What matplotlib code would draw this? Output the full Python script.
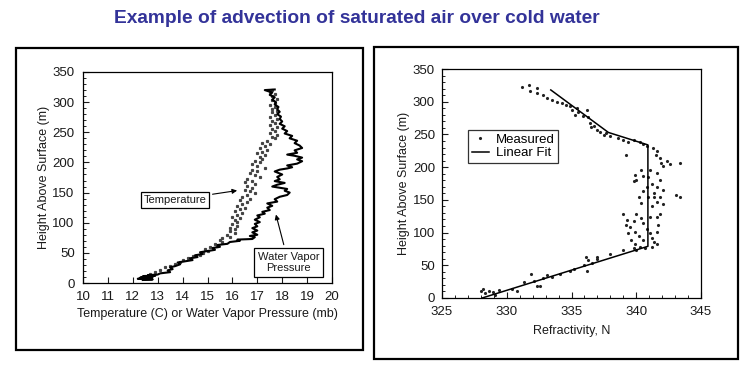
import matplotlib.pyplot as plt
from matplotlib.patches import Rectangle

plt.rcParams['font.family'] = ['Liberation Sans', 'DejaVu Sans']

# Left panel: water vapor pressure trace (mb, m)
vapor_x = [12.4, 12.8, 12.2, 12.7, 12.3, 12.8, 12.4, 12.9, 12.6, 13.0, 13.1, 13.5,
           13.4, 13.6, 13.5, 13.7, 13.9, 13.8, 14.1, 14.4, 14.3, 14.6, 14.5, 14.8,
           14.7, 15.0, 15.3, 15.2, 15.5, 15.4, 15.8, 15.9, 16.3, 16.2, 16.8, 16.9,
           16.7, 17.0, 16.8, 17.0, 16.8, 17.0, 16.9, 17.1, 16.9, 17.1, 17.0, 17.3,
           17.2, 17.5, 17.4, 17.6, 17.4, 17.8, 17.7, 17.9, 18.2, 18.3, 18.1, 18.2,
           17.6, 17.8, 18.1, 17.7, 17.9, 17.8, 18.0, 17.7, 17.9, 18.2, 18.4, 18.2,
           18.6, 18.8, 18.6, 18.8, 18.5, 18.2, 18.6, 18.5, 18.8, 18.7, 18.5, 18.6,
           18.3, 18.4, 18.1, 18.2, 18.0, 18.1, 17.9, 18.0, 17.9, 17.95, 17.8, 17.9,
           17.8, 17.85, 17.7, 17.75, 17.6, 17.7, 17.5, 17.6, 17.3, 17.7]
vapor_y = [5, 6, 7, 8, 9, 10, 11, 12, 13, 14, 16, 18,
           21, 23, 26, 28, 31, 34, 36, 38, 41, 43, 46, 48,
           51, 53, 55, 58, 60, 63, 65, 68, 70, 72, 73, 76,
           78, 80, 84, 87, 91, 94, 98, 101, 105, 109, 112, 115,
           118, 121, 125, 128, 132, 135, 139, 143, 146, 150, 153, 156,
           160, 163, 166, 169, 172, 176, 180, 185, 188, 190, 192, 195,
           198, 202, 205, 208, 211, 213, 216, 220, 224, 228, 232, 236,
           240, 244, 248, 252, 256, 260, 264, 268, 272, 276, 280, 284,
           288, 292, 296, 300, 304, 308, 312, 316, 320, 321]

# Left panel: temperature samples (C, m)
temp_x = [17.6, 17.5, 17.7, 17.6, 17.8, 17.6, 17.7, 17.5, 17.7, 17.6,
          17.8, 17.6, 17.7, 17.5, 17.8, 17.6, 17.7, 17.5, 17.8, 17.6, 17.7, 17.5, 17.8, 17.6, 17.7,
          17.4, 17.2, 17.5, 17.3, 17.1, 17.4, 17.2, 17.0, 17.3, 17.1,
          17.2, 16.9, 17.1, 16.8, 17.0, 17.3, 16.8, 17.0, 16.7, 16.9, 17.1,
          16.6, 16.8, 16.5, 16.9, 16.6, 16.8, 16.5, 16.7, 16.9, 16.6, 16.4, 16.7,
          16.3, 16.6, 16.4, 16.2, 16.5, 16.3, 16.1, 16.4, 16.2, 16.0, 16.3, 16.1, 16.2,
          16.0, 16.2, 15.9, 16.1, 15.9, 16.1, 15.8, 15.9, 15.6,
          15.5, 15.6, 15.3, 15.4, 15.1, 14.9, 15.0, 14.8, 14.7,
          14.4, 14.2, 14.0, 13.9, 13.7, 13.5, 13.3, 13.1, 12.9, 12.7, 12.5]
temp_y = [320, 316, 314, 310, 306, 303, 299, 296, 292, 289,
          286, 283, 279, 276, 272, 269, 265, 262, 259, 255, 252, 249, 246, 243, 240,
          236, 233, 230, 227, 224, 221, 218, 215, 212, 209,
          206, 203, 200, 197, 194, 191, 188, 185, 182, 179, 176,
          173, 170, 167, 164, 161, 158, 155, 152, 149, 146, 143, 140,
          137, 134, 131, 128, 125, 122, 119, 116, 113, 110, 107, 104, 101,
          98, 95, 92, 89, 86, 83, 80, 77, 74,
          71, 68, 65, 62, 59, 56, 53, 50, 47,
          44, 41, 38, 35, 32, 29, 26, 22, 19, 15, 11]

# Right panel: measured refractivity (N, m)
meas_n = [331.2, 331.7, 331.8, 332.3, 332.3, 332.8, 333.1, 333.5, 333.9, 334.3,
          334.6, 334.9, 335.0, 335.4, 335.5, 335.3, 335.9, 336.2, 336.3, 336.4,
          336.5, 336.7, 336.95, 337.2, 337.5, 337.7, 338.0, 338.6, 339.0, 339.4,
          339.8, 340.3, 340.55, 340.8, 339.2, 341.3, 341.6,
          339.9, 340.0, 339.8, 340.55, 340.9, 340.5, 340.8, 341.4, 341.8, 341.6,
          342.1, 341.2, 341.8, 341.9, 342.35, 342.1, 342.6, 343.4, 343.1, 343.4,
          340.2, 340.4, 340.0, 340.4, 340.55, 339.8, 339.5, 339.9, 340.2, 339.6,
          339.9, 340.55, 341.4, 341.6, 341.2, 340.8, 341.1, 341.6, 341.8, 341.7,
          341.6, 341.1, 340.7, 341.2, 339.0, 339.3, 339.4, 339.2, 340.4, 341.1,
          341.6, 341.8, 341.2, 341.5, 341.6, 341.4, 342.1, 340.9,
          328.0, 328.2, 328.3, 328.6, 328.9, 329.4, 329.1, 330.4, 330.8, 331.3,
          332.1, 331.9, 332.3, 332.6, 332.8, 333.1, 333.5, 334.1, 334.9, 335.2,
          336.0, 336.1, 336.2, 336.3, 336.6, 337.0, 337.0, 338.0, 339.0, 339.8,
          340.0, 340.3]
meas_h = [322, 326, 317, 321, 314, 311, 306, 303, 300, 298,
          295, 293, 288, 290, 285, 280, 278, 287, 276, 267,
          261, 263, 257, 254, 249, 252, 247, 244, 242, 239,
          241, 238, 236, 232, 219, 230, 224,
          188, 180, 179, 186, 185, 164, 170, 160, 155, 146,
          144, 140, 214, 206, 210, 201, 205, 206, 157, 155,
          155, 145, 129, 122, 115, 117, 109, 101, 94, 88,
          83, 88, 86, 82, 78, 106, 124, 124, 129, 111,
          101, 99, 76, 91, 129, 119, 99, 111, 196, 196,
          191, 180, 174, 219, 170, 155, 165, 155,
          11, 14, 8, 11, 9, 12, 4, 14, 11, 25,
          26, 37, 19, 18, 31, 35, 32, 37, 42, 44,
          50, 63, 42, 58, 53, 60, 63, 68, 73, 76,
          74, 78]

# Right panel: piecewise linear fit
fit_n = [328.1, 340.9, 340.9, 337.85, 333.4]
fit_h = [0, 79, 234, 253, 318]

fig = plt.figure(figsize=(7.49, 3.68), dpi=100)

fig.text(0.477, 0.951, 'Example of advection of saturated air over cold water',
         ha='center', va='center', fontsize=13.8, fontweight='bold', color='#333399')

# panel frames
fig.add_artist(Rectangle((16 / 749, 1 - 350 / 368), 347 / 749, 302 / 368,
                         transform=fig.transFigure, fill=False, lw=1.6, ec='black'))
fig.add_artist(Rectangle((374 / 749, 1 - 359 / 368), 364 / 749, 312 / 368,
                         transform=fig.transFigure, fill=False, lw=1.6, ec='black'))

txt = '#1a1a1a'

# ---- left panel ----
ax1 = fig.add_axes([83 / 749, 85 / 368, 249 / 749, 211 / 368])
ax1.plot(temp_x, temp_y, ls='none', marker='s', ms=1.3, color='#444444')
ax1.plot(vapor_x, vapor_y, color='black', lw=1.5)
ax1.set_xlim(10, 20)
ax1.set_ylim(0, 350)
ax1.set_xticks(range(10, 21))
ax1.set_yticks(range(0, 351, 50))
ax1.set_yticks(range(0, 351, 10), minor=True)
ax1.tick_params(direction='in', length=4, labelsize=9.5, colors=txt, pad=6)
ax1.tick_params(which='minor', direction='in', length=2)
ax1.set_xlabel('Temperature (C) or Water Vapor Pressure (mb)', fontsize=9, color=txt, labelpad=3)
ax1.set_ylabel('Height Above Surface (m)', fontsize=9, color=txt, labelpad=2)
for s in ax1.spines.values():
    s.set_linewidth(0.9)
ax1.annotate('Temperature', xy=(16.3, 154), xytext=(13.7, 138),
             ha='center', va='center', fontsize=8, color=txt,
             bbox=dict(boxstyle='square,pad=0.25', fc='white', ec='black', lw=0.9),
             arrowprops=dict(arrowstyle='-|>', color='black', lw=0.8, mutation_scale=7))
ax1.annotate('Water Vapor\nPressure', xy=(17.72, 118), xytext=(18.25, 34),
             ha='center', va='center', fontsize=8, color=txt,
             bbox=dict(boxstyle='square,pad=0.35', fc='white', ec='black', lw=0.9),
             arrowprops=dict(arrowstyle='-|>', color='black', lw=0.8, mutation_scale=7))

# ---- right panel ----
ax2 = fig.add_axes([442 / 749, 70 / 368, 259 / 749, 229 / 368])
ax2.plot(meas_n, meas_h, ls='none', marker='.', ms=2.5, color='#222222', label='Measured')
ax2.plot(fit_n, fit_h, color='black', lw=1.1, label='Linear Fit')
ax2.set_xlim(325, 345)
ax2.set_ylim(0, 350)
ax2.set_xticks(range(325, 346, 5))
ax2.set_xticks(range(325, 346, 1), minor=True)
ax2.set_yticks(range(0, 351, 50))
ax2.set_yticks(range(0, 351, 10), minor=True)
ax2.tick_params(direction='in', length=4, labelsize=9.5, colors=txt)
ax2.tick_params(axis='x', pad=6)
ax2.tick_params(axis='y', pad=5)
ax2.tick_params(which='minor', direction='in', length=2)
ax2.set_xlabel('Refractivity, N', fontsize=9, color=txt, labelpad=5)
ax2.set_ylabel('Height Above Surface (m)', fontsize=9, color=txt, labelpad=2)
for s in ax2.spines.values():
    s.set_linewidth(0.9)
leg = ax2.legend(loc='upper left', bbox_to_anchor=(0.1, 0.735), fontsize=9.5,
                 frameon=True, fancybox=False, edgecolor='black', borderpad=0.3,
                 handlelength=1.3, handletextpad=0.5, labelspacing=0.1, borderaxespad=0)
leg.get_frame().set_linewidth(0.9)

fig.savefig('out.png', dpi=100)
